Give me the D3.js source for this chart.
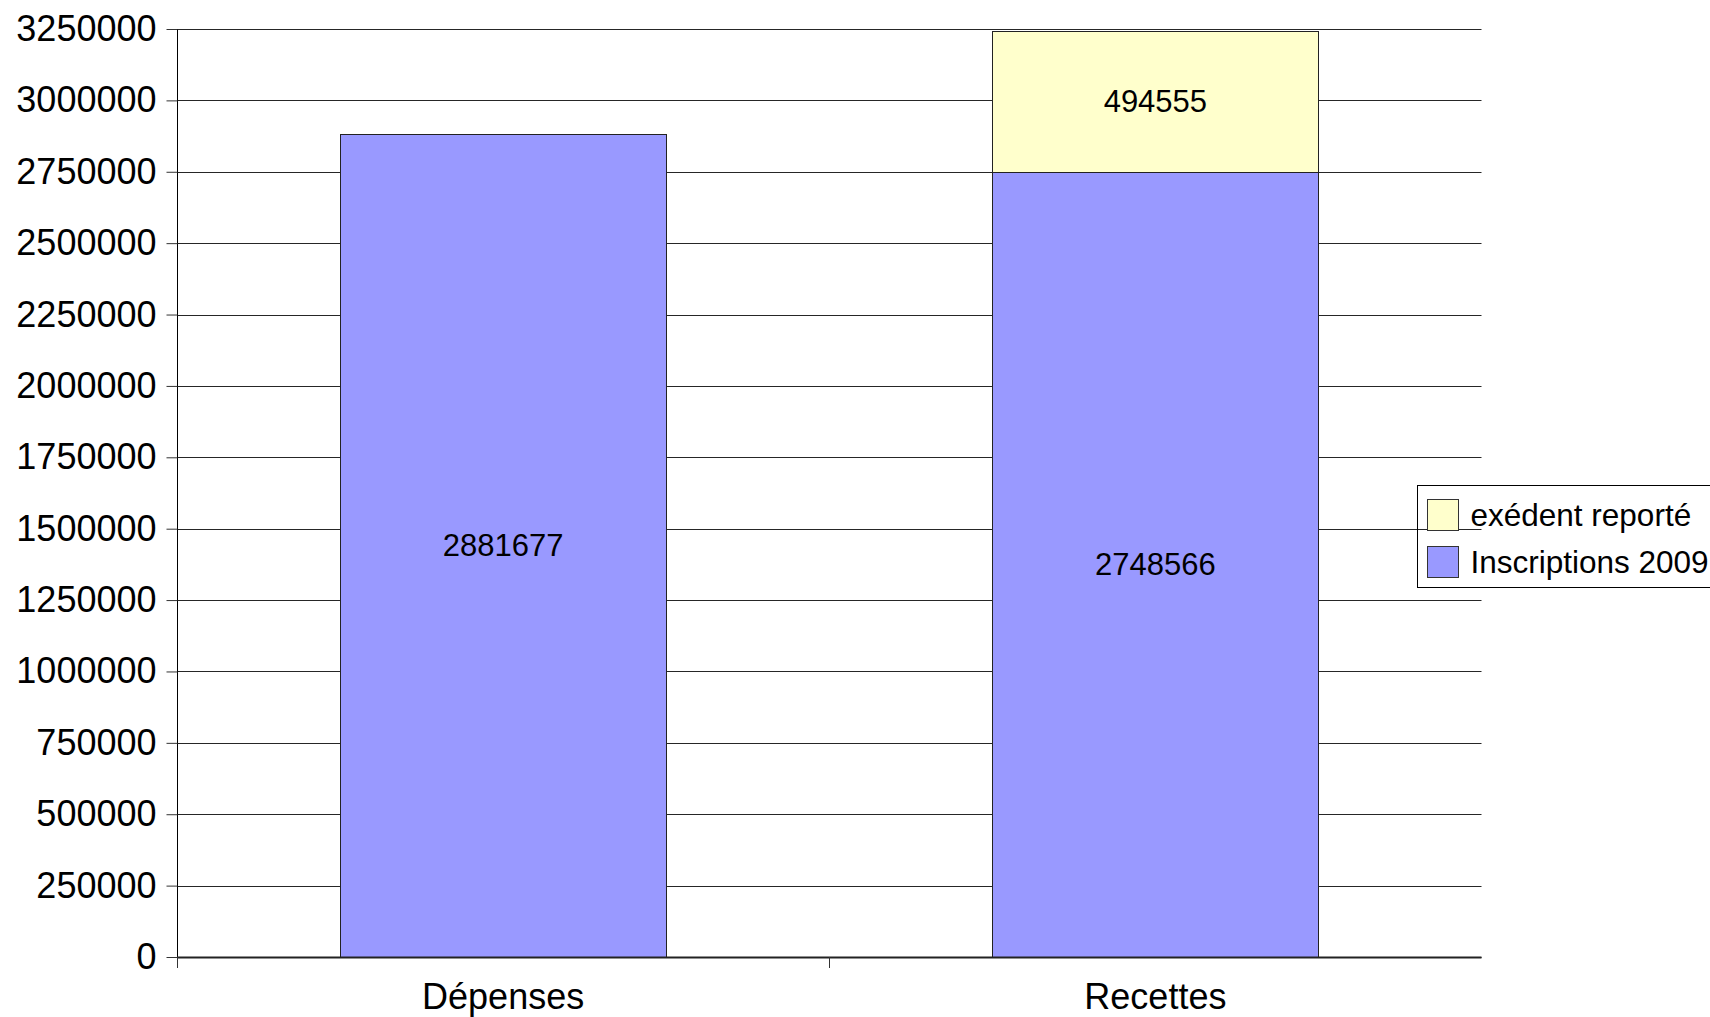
<!DOCTYPE html>
<html>
<head>
<meta charset="utf-8">
<script src="https://cdn.jsdelivr.net/npm/d3@7"></script>
<style>
  html, body { margin: 0; padding: 0; background: #fff; }
  svg { display: block; font-family: "Liberation Sans", Arial, sans-serif; }
</style>
</head>
<body>
<svg id="chart" width="1710" height="1017"></svg>
<script>
// ---- data ----
const categories = ["Dépenses", "Recettes"];
const seriesNames = ["Inscriptions 2009", "exédent reporté"];
const inscriptions2009 = [2881677, 2748566];
const excedentReporte = [0, 494555];
const yTickValues = [0, 250000, 500000, 750000, 1000000, 1250000, 1500000, 1750000,
                     2000000, 2250000, 2500000, 2750000, 3000000, 3250000];
const seriesColors = ["#9999ff", "#ffffcc"];

// ---- build table ----
const rows = categories.map((c, i) => ({
  category: c,
  "Inscriptions 2009": inscriptions2009[i],
  "exédent reporté": excedentReporte[i]
}));
const stacked = d3.stack().keys(seriesNames)(rows);

const svg = d3.select("#chart");
const plotLeft = 177, plotRight = 1481.5, plotTop = 29, plotBottom = 957;

const x = d3.scaleBand().domain(categories).range([plotLeft, plotRight])
  .paddingInner(0.5).paddingOuter(0.25);
const y = d3.scaleLinear().domain([0, 3250000]).range([plotBottom, plotTop]);

// gridlines
svg.append("g").selectAll("line").data(yTickValues).join("line")
  .attr("x1", plotLeft).attr("x2", plotRight)
  .attr("y1", d => Math.round(y(d)) + 0.5).attr("y2", d => Math.round(y(d)) + 0.5)
  .attr("stroke", "#262626").attr("stroke-width", 1);

// bars
const color = d3.scaleOrdinal().domain(seriesNames).range(seriesColors);
const layers = svg.append("g").selectAll("g").data(stacked).join("g")
  .attr("fill", d => color(d.key));
layers.selectAll("rect").data(d => d.filter(s => s[1] - s[0] > 0)).join("rect")
  .attr("x", d => Math.round(x(d.data.category)) + 0.5)
  .attr("width", Math.round(x.bandwidth()))
  .attr("y", d => Math.round(y(d[1])) + 0.5)
  .attr("height", d => Math.round(y(d[0])) - Math.round(y(d[1])))
  .attr("stroke", "#222").attr("stroke-width", 1);

// data labels
const labels = svg.append("g").attr("font-size", 31).attr("fill", "#000").attr("text-anchor", "middle");
stacked.forEach(layer => {
  layer.forEach(s => {
    const v = s[1] - s[0];
    if (v <= 0) return;
    labels.append("text")
      .attr("x", x(s.data.category) + x.bandwidth() / 2)
      .attr("y", (y(s[0]) + y(s[1])) / 2)
      .attr("dy", "0.35em")
      .text(v);
  });
});

// y axis
const yAxis = svg.append("g")
  .attr("transform", `translate(${plotLeft + 0.5},0)`)
  .call(d3.axisLeft(y).tickValues(yTickValues).tickFormat(d3.format("d")).tickSize(11).tickPadding(10));
yAxis.select(".domain").attr("d", `M0,${plotTop}V${plotBottom + 11}`).attr("stroke", "#000");
yAxis.selectAll(".tick line").attr("stroke", "#333");
yAxis.selectAll("text").attr("font-size", 36).attr("font-family", "Liberation Sans, Arial, sans-serif").attr("fill", "#000");

// x axis
svg.append("line").attr("x1", plotLeft).attr("x2", plotRight)
  .attr("y1", plotBottom + 0.5).attr("y2", plotBottom + 0.5)
  .attr("stroke", "#222").attr("stroke-width", 2);
const boundaries = categories.map(c => x(c) - x.step() * x.paddingInner() / 2);
svg.append("g").selectAll("line").data(boundaries).join("line")
  .attr("x1", d => Math.round(d) + 0.5).attr("x2", d => Math.round(d) + 0.5)
  .attr("y1", plotBottom).attr("y2", plotBottom + 11)
  .attr("stroke", "#333").attr("stroke-width", 1);
const xAxis = svg.append("g")
  .attr("transform", `translate(0,${plotBottom})`)
  .call(d3.axisBottom(x).tickSize(0).tickPadding(26));
xAxis.select(".domain").remove();
xAxis.selectAll("text").attr("font-size", 36).attr("font-family", "Liberation Sans, Arial, sans-serif").attr("fill", "#000");

// legend
const legend = svg.append("g");
legend.append("rect").attr("x", 1417.5).attr("y", 485.5).attr("width", 320).attr("height", 102)
  .attr("fill", "none").attr("stroke", "#000").attr("stroke-width", 1);
const legendOrder = ["exédent reporté", "Inscriptions 2009"];
const li = legend.selectAll("g.item").data(legendOrder).join("g").attr("class", "item")
  .attr("transform", (d, i) => `translate(1427.5,${499.5 + i * 47})`);
li.append("rect").attr("width", 31).attr("height", 31)
  .attr("fill", d => color(d)).attr("stroke", "#333").attr("stroke-width", 1);
li.append("text").attr("x", 43).attr("y", 15).attr("dy", "0.35em")
  .attr("font-size", 31.5).attr("fill", "#000").text(d => d);
</script>
</body>
</html>
